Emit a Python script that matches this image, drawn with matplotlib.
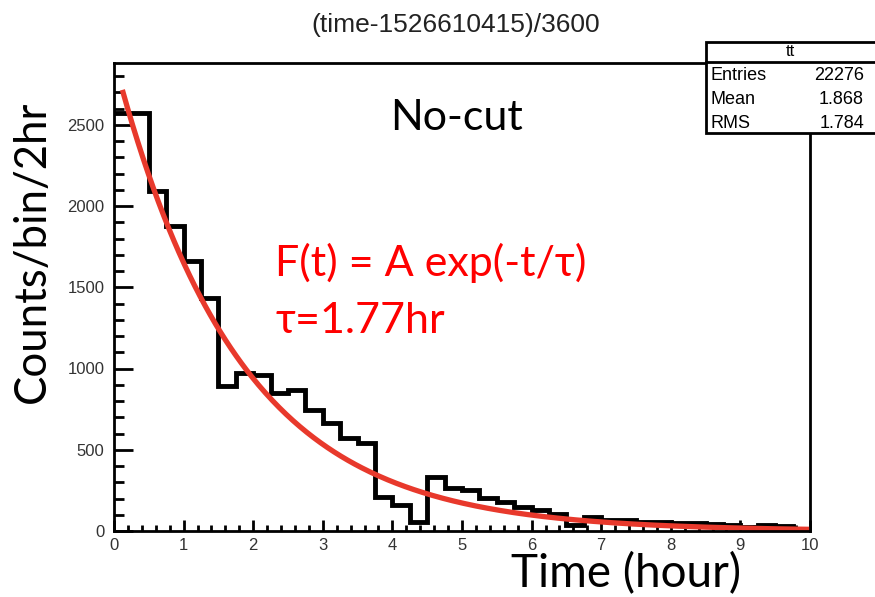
import matplotlib.pyplot as plt
from matplotlib.patches import Rectangle
from matplotlib.ticker import MultipleLocator
import numpy as np

# histogram: 40 bins of 0.25 hr between 0 and 10
bin_edges = np.linspace(0, 10, 41)
counts = [2570, 2575, 2090, 1875, 1660, 1435, 890, 970, 960, 850,
          868, 745, 663, 571, 540, 211, 160, 57, 334, 263,
          252, 201, 181, 150, 129, 105, 40, 88, 68, 68,
          57, 55, 47, 47, 45, 35, 25, 35, 30, 15]

# exponential fit shown on the chart
fit_amp = 2905
fit_tau = 1.77
fit_start, fit_end = 0.12, 10

stats_labels = ["Entries", "Mean", "RMS"]
stats_values = ["22276", "1.868", "1.784"]

big_font = ["Lato", "DejaVu Sans"]
root_font = ["Liberation Sans", "DejaVu Sans"]

fig = plt.figure(figsize=(8.75, 5.97), dpi=100)
ax = fig.add_axes([114/875, 66/597, 696/875, 468/597])

ax.stairs(counts, bin_edges, color="black", lw=3.5, baseline=None)

t = np.linspace(fit_start, fit_end, 400)
ax.plot(t, fit_amp*np.exp(-t/fit_tau), color="#e8392c", lw=3.8, solid_capstyle="butt")

ax.set_xlim(0, 10)
ax.set_ylim(0, 2880)
ax.xaxis.set_major_locator(MultipleLocator(1))
ax.xaxis.set_minor_locator(MultipleLocator(0.2))
ax.yaxis.set_major_locator(MultipleLocator(500))
ax.yaxis.set_minor_locator(MultipleLocator(100))
ax.tick_params(axis="x", which="major", direction="in", length=8, width=2, pad=5)
ax.tick_params(axis="x", which="minor", direction="in", length=4, width=2)
ax.tick_params(axis="y", which="major", direction="in", length=14, width=2, pad=7)
ax.tick_params(axis="y", which="minor", direction="in", length=7, width=2)
for lab in ax.get_xticklabels() + ax.get_yticklabels():
    lab.set_family(root_font)
    lab.set_fontsize(12)
    lab.set_color("#333333")
for sp in ax.spines.values():
    sp.set_linewidth(2)

# title
fig.text(456/875, 1 - 25/597, "(time-1526610415)/3600", family=root_font,
         fontsize=19, ha="center", va="center", color="#222222")

# stats box
box = Rectangle((706/875, 1 - 133/597), 180/875, 91/597, transform=fig.transFigure,
                facecolor="white", edgecolor="black", lw=2, zorder=5)
fig.add_artist(box)
fig.add_artist(plt.Line2D([706/875, 1], [1 - 62/597]*2, transform=fig.transFigure,
                          color="black", lw=2, zorder=6))
fig.text(790/875, 1 - 52/597, "tt", family=root_font, fontsize=12,
         ha="center", va="center", zorder=7)
for i, (lab, val) in enumerate(zip(stats_labels, stats_values)):
    yy = 1 - (76 + 24*i)/597
    fig.text(710/875, yy, lab, family=root_font, fontsize=13, ha="left", va="center", zorder=7)
    fig.text(864/875, yy, val, family=root_font, fontsize=13, ha="right", va="center", zorder=7)

# annotations
fig.text(456/875, 1 - 118/597, "No-cut", family=big_font, fontsize=31,
         ha="center", va="center")
fig.text(275/875, 1 - 276/597, "F(t) = A exp(-t/τ)", family=big_font, fontsize=31,
         color="red", ha="left", va="baseline")
fig.text(275/875, 1 - 333/597, "τ=1.77hr", family=big_font, fontsize=31,
         color="red", ha="left", va="baseline")

fig.text(32/875, 1 - 252/597, "Counts/bin/2hr", family=big_font, fontsize=31.5,
         rotation=90, ha="center", va="center")
fig.text(626/875, 1 - 574/597, "Time (hour)", family=big_font, fontsize=33,
         ha="center", va="center")

fig.savefig("out.png", dpi=100)
